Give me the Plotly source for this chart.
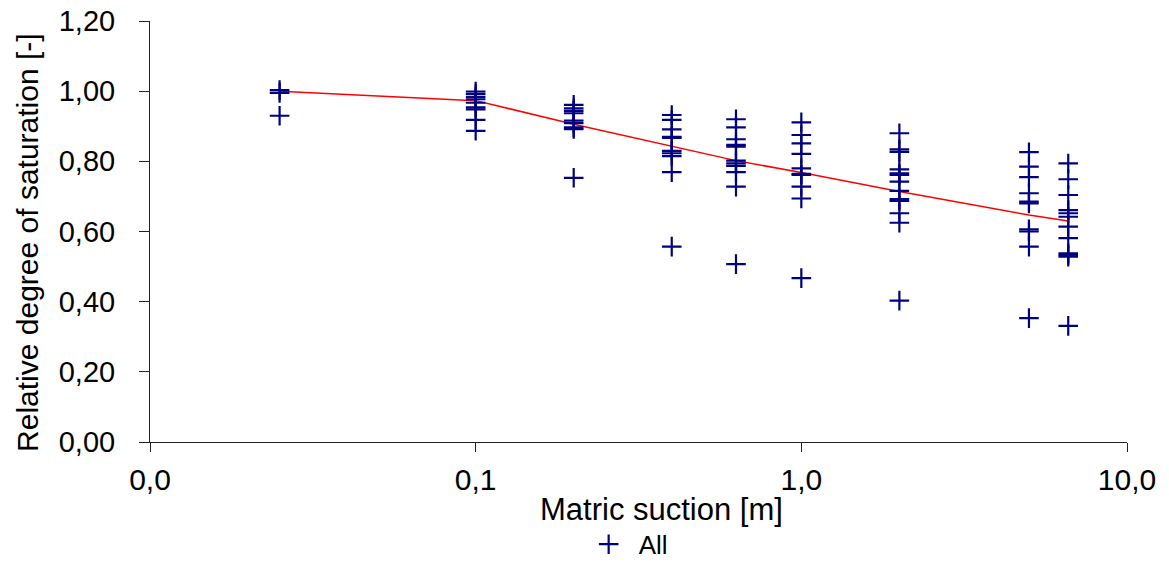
import plotly.graph_objects as go

# Matric suction levels [m] at which the samples were measured
suction = [0.025, 0.1, 0.2, 0.4, 0.63, 1.0, 2.0, 5.0, 6.6]

# Relative degree of saturation measured at each suction level
sat_0025 = [1.003, 0.995, 0.93]
sat_01 = [0.999, 0.992, 0.984, 0.977, 0.967, 0.954, 0.948, 0.918, 0.887]
sat_02 = [0.961, 0.951, 0.944, 0.937, 0.916, 0.909, 0.897, 0.892, 0.753]
sat_04 = [0.932, 0.918, 0.891, 0.870, 0.867, 0.830, 0.823, 0.815, 0.769, 0.557]
sat_063 = [0.920, 0.897, 0.863, 0.847, 0.842, 0.802, 0.794, 0.787, 0.769, 0.728, 0.507]
sat_10 = [0.911, 0.875, 0.851, 0.821, 0.780, 0.764, 0.761, 0.728, 0.694, 0.467]
sat_20 = [0.880, 0.834, 0.827, 0.777, 0.766, 0.761, 0.742, 0.716, 0.692, 0.687, 0.652, 0.625, 0.403]
sat_50 = [0.826, 0.785, 0.755, 0.709, 0.685, 0.680, 0.606, 0.600, 0.557, 0.353]
sat_66 = [0.794, 0.749, 0.704, 0.661, 0.652, 0.642, 0.614, 0.581, 0.538, 0.533, 0.528, 0.331]

# Mean retention curve
mean_curve = [1.0, 0.973, 0.906, 0.842, 0.802, 0.768, 0.714, 0.647, 0.630]

x_ticks = [0.01, 0.1, 1, 10]
x_ticktext = ["0,0", "0,1", "1,0", "10,0"]
y_ticks = [0.0, 0.2, 0.4, 0.6, 0.8, 1.0, 1.2]
y_ticktext = ["0,00", "0,20", "0,40", "0,60", "0,80", "1,00", "1,20"]

groups = [sat_0025, sat_01, sat_02, sat_04, sat_063, sat_10, sat_20, sat_50, sat_66]
xs, ys = [], []
for s, vals in zip(suction, groups):
    xs.extend([s] * len(vals))
    ys.extend(vals)

FONT = "Liberation Sans, Arial, sans-serif"
NAVY = "#000080"

fig = go.Figure()
fig.add_trace(go.Scatter(
    x=suction, y=mean_curve, mode="lines",
    line=dict(color="#ff0000", width=1.5),
    showlegend=False, hoverinfo="skip",
))
fig.add_trace(go.Scatter(
    x=xs, y=ys, mode="markers", name="All",
    marker=dict(symbol="cross-thin", size=14, color=NAVY,
                line=dict(color=NAVY, width=2.2)),
))

fig.update_layout(
    width=1169, height=563,
    margin=dict(l=150, r=42, t=21, b=121, autoexpand=False),
    paper_bgcolor="white", plot_bgcolor="white",
    font=dict(family=FONT, color="black"),
    showlegend=True,
    legend=dict(orientation="h", xref="container", yref="container",
                x=0.495, y=0.075, xanchor="left", yanchor="top",
                itemwidth=50,
                font=dict(size=26, family=FONT), bgcolor="rgba(0,0,0,0)"),
    xaxis=dict(
        type="log", range=[-2, 1], automargin=False,
        tickvals=x_ticks, ticktext=x_ticktext,
        ticks="outside", ticklen=9, tickcolor="#222", tickwidth=1,
        showline=True, linecolor="#222", linewidth=1,
        showgrid=False, zeroline=False,
        tickfont=dict(size=30, family=FONT),
        ticklabelstandoff=2,
    ),
    yaxis=dict(
        range=[0, 1.2], automargin=False,
        tickvals=y_ticks, ticktext=y_ticktext,
        ticks="outside", ticklen=10, tickcolor="#222", tickwidth=1,
        showline=True, linecolor="#222", linewidth=1,
        showgrid=False, zeroline=False,
        tickfont=dict(size=29, family=FONT),
        ticklabelstandoff=18,
    ),
    annotations=[
        dict(text="Matric suction [m]", xref="paper", yref="paper",
             x=0.524, y=-0.16, xanchor="center", yanchor="middle",
             showarrow=False, font=dict(size=31, family=FONT)),
        dict(text="Relative degree of saturation [-]", xref="paper", yref="paper",
             x=-0.126, y=0.475, xanchor="center", yanchor="middle", textangle=-90,
             showarrow=False, font=dict(size=30, family=FONT)),
    ],
)

fig.write_html("out.html")
